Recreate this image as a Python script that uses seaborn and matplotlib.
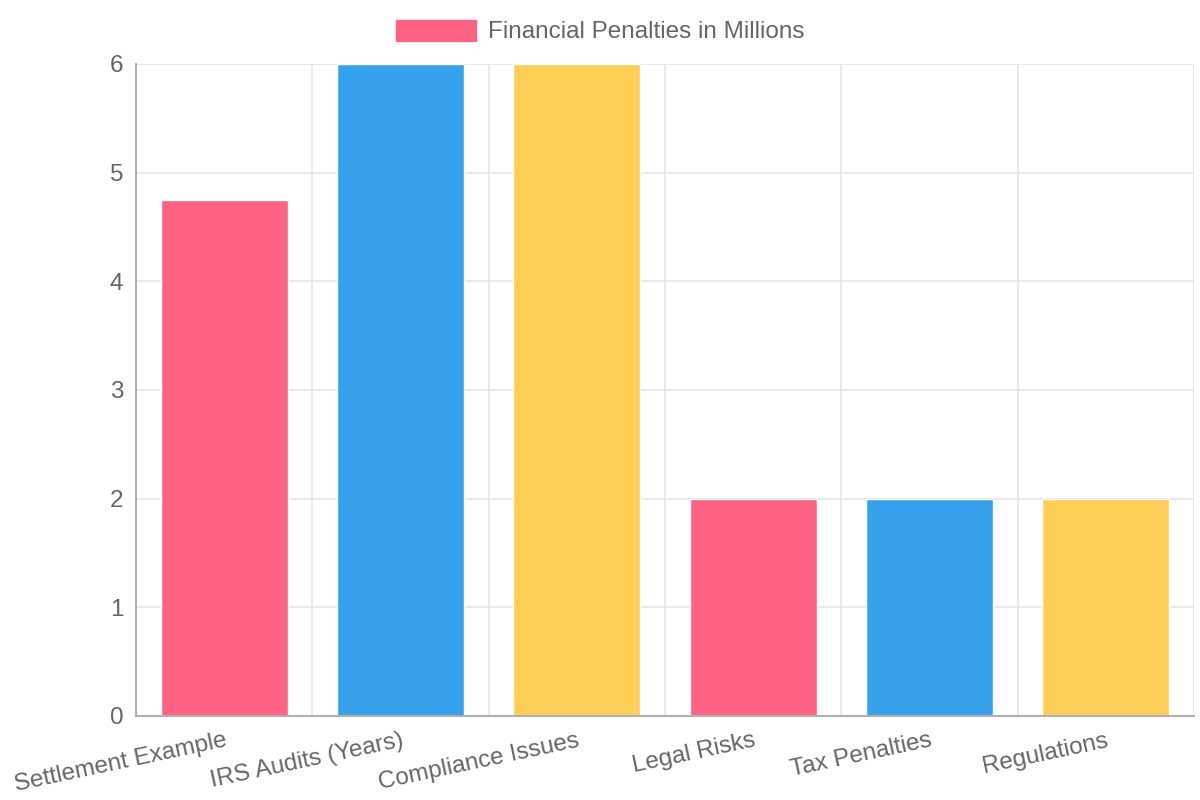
import matplotlib
matplotlib.use("Agg")
import matplotlib.pyplot as plt
from matplotlib.patches import Patch
import seaborn as sns
import pandas as pd
import numpy as np

categories = ["Settlement Example", "IRS Audits (Years)", "Compliance Issues",
              "Legal Risks", "Tax Penalties", "Regulations"]
values = [4.75, 6, 6, 2, 2, 2]
colors = ["#FF6384", "#36A2EB", "#FFCE56", "#FF6384", "#36A2EB", "#FFCE56"]
series_label = "Financial Penalties in Millions"
y_ticks = [0, 1, 2, 3, 4, 5, 6]

sns.set_style("white")
plt.rcParams['font.family'] = ['Liberation Sans', 'DejaVu Sans']

df = pd.DataFrame({"category": categories, "value": values})

fig = plt.figure(figsize=(12, 8), dpi=100)
ax = fig.add_axes([136/1200, 1-716/800, (1194-136)/1200, (716-64)/800])

sns.barplot(data=df, x="category", y="value", hue="category",
            palette=dict(zip(categories, colors)), width=0.72,
            saturation=1, legend=False, ax=ax, zorder=3)

text_color = "#666666"
grid_color = "#e5e5e5"
axis_color = "#b0b0b0"
fs = 17.5

ax.set_xlim(-0.5, len(categories) - 0.5)
ax.set_ylim(0, 6)
ax.set_yticks(y_ticks)
ax.set_xlabel("")
ax.set_ylabel("")

# x grid at category boundaries
bounds = np.arange(len(categories) + 1) - 0.5
ax.set_xticks(bounds, minor=True)
ax.tick_params(axis="x", which="minor", length=19, color=grid_color, width=1.2)
ax.tick_params(axis="x", which="major", length=0, pad=10, labelsize=fs, labelcolor=text_color)
ax.tick_params(axis="y", which="major", length=6, color=axis_color, width=1.2,
               pad=3, labelsize=fs, labelcolor=text_color)
ax.set_xticks(range(len(categories)))
ax.set_xticklabels(categories, rotation=12, ha="right", rotation_mode="anchor")
ax.xaxis.grid(True, which="minor", color=grid_color, linewidth=1.2, zorder=0)
ax.yaxis.grid(True, which="major", color=grid_color, linewidth=1.2, zorder=0)
ax.set_axisbelow(True)

for side in ["top", "right"]:
    ax.spines[side].set_visible(False)
for side in ["left", "bottom"]:
    ax.spines[side].set_color(axis_color)
    ax.spines[side].set_linewidth(1.5)
    ax.spines[side].set_zorder(4)

handle = Patch(facecolor=colors[0], edgecolor=colors[0])
leg = fig.legend([handle], [series_label], loc="center", bbox_to_anchor=(0.5, 1-31.5/800),
                 frameon=False, fontsize=fs, handlelength=3.3, handleheight=0.95,
                 handletextpad=0.5, labelcolor=text_color)

fig.savefig("out.png", dpi=100)
